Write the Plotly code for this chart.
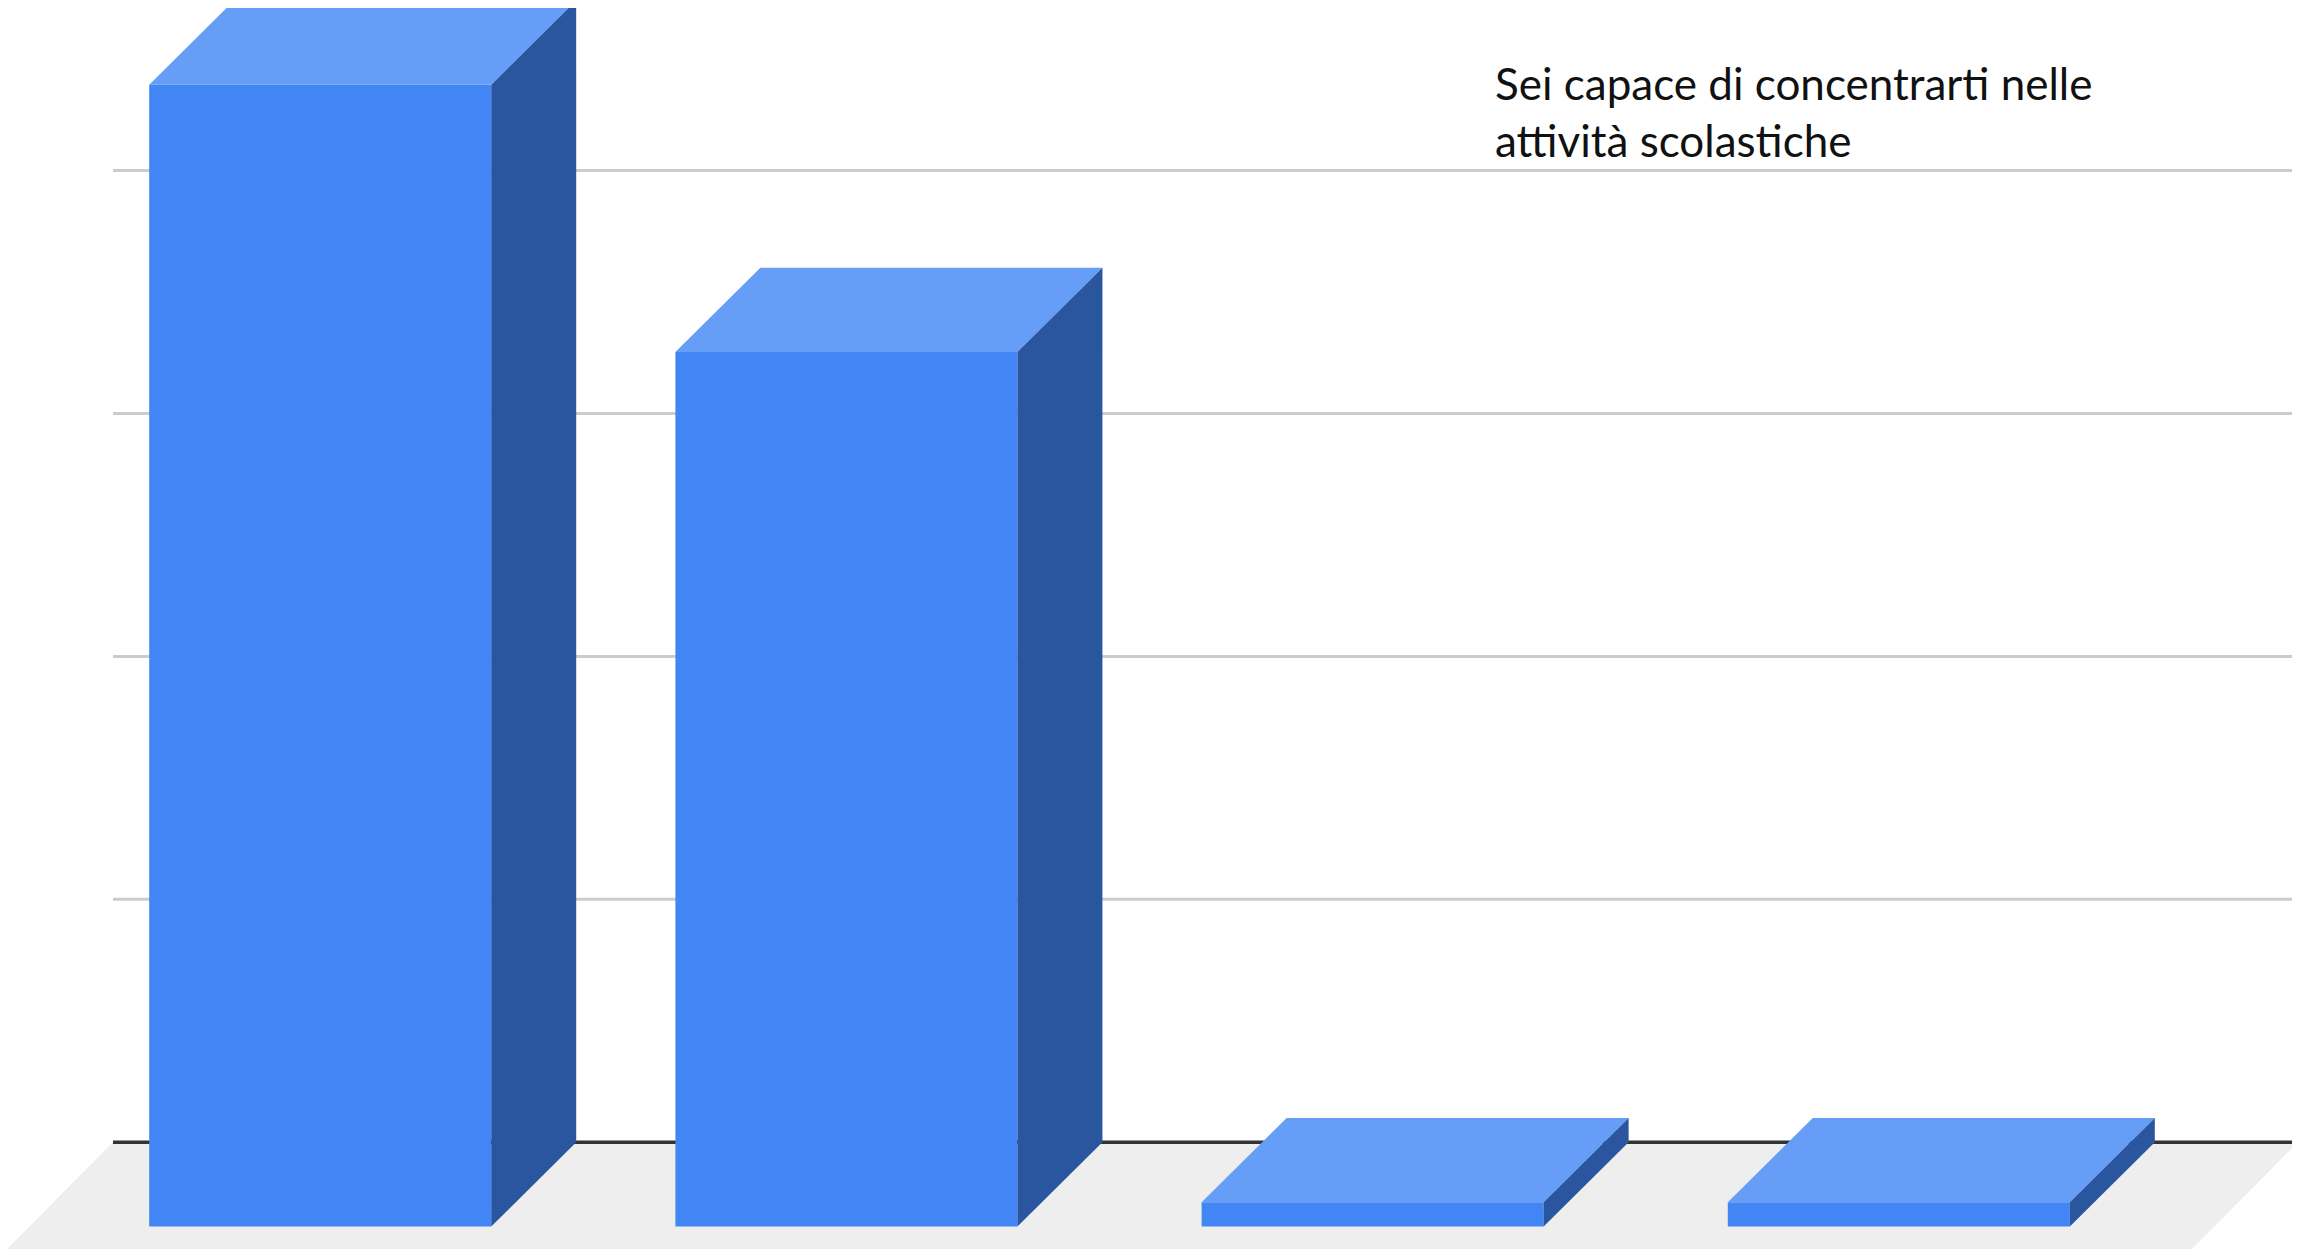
import plotly.graph_objects as go

# data (counts of answers)
categories = ["A", "B", "C", "D"]
values = [47, 36, 1, 1]
grid_values = [10, 20, 30, 40]
title_lines = ["Sei capace di concentrarti nelle", "attività scolastiche"]

# page layout: the html body has an 8px margin, so the figure is shrunk by it
PAGE_W, PAGE_H, BODY_MARGIN = 2300, 1254, 8
FIG_W, FIG_H = PAGE_W - BODY_MARGIN, PAGE_H - BODY_MARGIN

# pixel <-> data mapping (screen px)
PX_PER_X, X_CENTER_PX = 526.2, 1194.5   # bar spacing, centre of the 4 bars (x = 1.5)
PX_PER_Y, Y_ZERO_PX = 24.295, 1142.3    # px per count, baseline

x_range = [1.5 + (BODY_MARGIN - X_CENTER_PX) / PX_PER_X, 1.5 + (PAGE_W - X_CENTER_PX) / PX_PER_X]
y_range = [(Y_ZERO_PX - PAGE_H) / PX_PER_Y, (Y_ZERO_PX - BODY_MARGIN) / PX_PER_Y]

# pseudo-3D geometry (data units)
BAR_W = 0.65
DEPTH_X = -0.1615
DEPTH_Y = -3.47
FLOOR_X0, FLOOR_X1 = -0.5553, 3.5971
FLOOR_DX, FLOOR_DY = -0.2016, -4.392

FRONT = "#4285f4"
TOP = "#669df6"
SIDE = "#2a569f"

xs = list(range(len(categories)))

fig = go.Figure()

# front faces
fig.add_trace(go.Bar(
    x=[x + DEPTH_X for x in xs],
    y=values,
    base=[DEPTH_Y] * len(values),
    width=BAR_W,
    marker=dict(color=FRONT, line=dict(width=0)),
    hoverinfo="skip",
    showlegend=False,
))

# top and side faces
for x, v in zip(xs, values):
    l, r = x - BAR_W / 2, x + BAR_W / 2
    fig.add_trace(go.Scatter(
        x=[l + DEPTH_X, r + DEPTH_X, r, l, l + DEPTH_X],
        y=[v + DEPTH_Y, v + DEPTH_Y, v, v, v + DEPTH_Y],
        fill="toself", fillcolor=TOP, mode="lines", line=dict(width=0),
        hoverinfo="skip", showlegend=False,
    ))
    fig.add_trace(go.Scatter(
        x=[r + DEPTH_X, r, r, r + DEPTH_X, r + DEPTH_X],
        y=[v + DEPTH_Y, v, 0, DEPTH_Y, v + DEPTH_Y],
        fill="toself", fillcolor=SIDE, mode="lines", line=dict(width=0),
        hoverinfo="skip", showlegend=False,
    ))

shapes = []
# floor
floor_path = (
    f"M {FLOOR_X0},0 L {FLOOR_X1},0 "
    f"L {FLOOR_X1 + FLOOR_DX},{FLOOR_DY} L {FLOOR_X0 + FLOOR_DX},{FLOOR_DY} Z"
)
shapes.append(dict(type="path", path=floor_path, xref="x", yref="y",
                   fillcolor="#eeeeee", line=dict(width=0), layer="below"))
# gridlines
for g in grid_values:
    shapes.append(dict(type="line", xref="x", yref="y", x0=FLOOR_X0, x1=FLOOR_X1,
                       y0=g, y1=g, line=dict(color="#cccccc", width=3), layer="below"))
# baseline
shapes.append(dict(type="line", xref="x", yref="y", x0=FLOOR_X0, x1=FLOOR_X1,
                   y0=0, y1=0, line=dict(color="#333333", width=3.5), layer="below"))

fig.update_layout(
    width=FIG_W,
    height=FIG_H,
    margin=dict(l=0, r=0, t=0, b=0),
    paper_bgcolor="white",
    plot_bgcolor="white",
    shapes=shapes,
    xaxis=dict(range=x_range, visible=False, fixedrange=True),
    yaxis=dict(range=y_range, visible=False, fixedrange=True),
    annotations=[dict(
        text="<br>".join(title_lines),
        xref="paper", yref="paper",
        x=(1493 - BODY_MARGIN) / FIG_W, y=1 - (111 - BODY_MARGIN) / FIG_H,
        xanchor="left", yanchor="middle", align="left",
        showarrow=False,
        font=dict(family="Lato", size=44, color="#111111"),
    )],
)

fig.write_html("out.html")
